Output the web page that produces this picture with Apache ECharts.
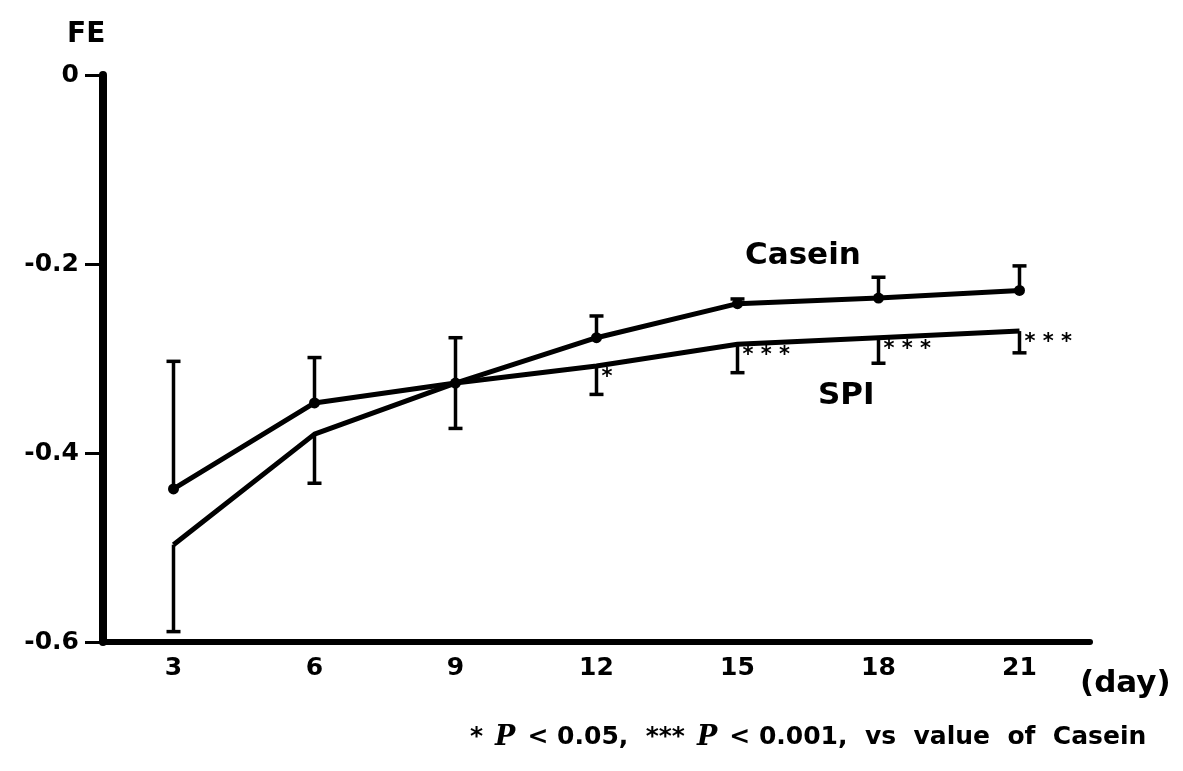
<!DOCTYPE html>
<html>
<head>
<meta charset="utf-8">
<script src="https://cdn.jsdelivr.net/npm/echarts@6/dist/echarts.min.js"></script>
<style>
  html, body { margin: 0; padding: 0; background: #fff; }
  #chart { width: 1183px; height: 771px; }
</style>
</head>
<body>
<div id="chart"></div>
<script>
// 数据
const days = [3, 6, 9, 12, 15, 18, 21];
const caseinMean = [-0.438, -0.347, -0.326, -0.278, -0.242, -0.236, -0.228];
const caseinErr = [0.135, 0.048, 0.048, 0.023, 0.005, 0.022, 0.026];   // 向上
const spiMean = [-0.497, -0.380, -0.326, -0.308, -0.285, -0.278, -0.271];
const spiErr = [0.092, 0.052, 0.048, 0.030, 0.030, 0.027, 0.023];       // 向下
const spiStars = ['', '', '', '*', '* * *', '* * *', '* * *'];
const yTicks = [-0.6, -0.4, -0.2, 0];

const FONT = '"DejaVu Sans", "Liberation Sans", sans-serif';

const myChart = echarts.init(document.getElementById('chart'));

// 误差线数据：[x, 均值, 端点]
let caseinBars = [];
let spiBars = [];
days.map(function (d, i) {
  caseinBars.push([d, caseinMean[i], caseinMean[i] + caseinErr[i]]);
  spiBars.push([d, spiMean[i], spiMean[i] - spiErr[i]]);
});

function renderBar(params, api) {
  let x = api.value(0);
  let m = api.coord([x, api.value(1)]);
  let e = api.coord([x, api.value(2)]);
  let stars = params.seriesName === 'SPI-err' ? spiStars[params.dataIndex] : '';
  let children = [
    { type: 'line', shape: { x1: m[0], y1: m[1], x2: e[0], y2: e[1] }, style: { stroke: '#000', lineWidth: 3.5 } },
    { type: 'line', shape: { x1: e[0] - 7, y1: e[1], x2: e[0] + 7, y2: e[1] }, style: { stroke: '#000', lineWidth: 3.5 } }
  ];
  if (stars) {
    children.push({
      type: 'text',
      style: {
        text: stars, x: m[0] + 5, y: m[1] + 1,
        font: 'bold 21px ' + FONT, fill: '#000',
        textAlign: 'left', textVerticalAlign: 'top'
      }
    });
  }
  return { type: 'group', children: children };
}

let option = {
  animation: false,
  backgroundColor: '#fff',
  grid: { left: 103, right: 93, top: 75, bottom: 129 },
  xAxis: {
    type: 'value',
    min: 1.5,
    max: 22.5,
    interval: 1.5,
    axisLine: { onZero: false, lineStyle: { color: '#000', width: 6 } },
    axisTick: { show: false },
    splitLine: { show: false },
    axisLabel: {
      margin: 14,
      color: '#000',
      fontSize: 25,
      fontWeight: 'bold',
      fontFamily: FONT,
      formatter: function (v) { return days.indexOf(v) >= 0 ? String(v) : ''; }
    }
  },
  yAxis: {
    type: 'value',
    min: -0.6,
    max: 0,
    interval: 0.2,
    axisLine: { show: true, lineStyle: { color: '#000', width: 8 } },
    axisTick: { show: true, inside: false, length: 18, lineStyle: { color: '#000', width: 3 } },
    splitLine: { show: false },
    axisLabel: {
      margin: 24,
      color: '#000',
      fontSize: 25,
      fontWeight: 'bold',
      fontFamily: FONT,
      formatter: function (v) {
        let r = Math.round(v * 10) / 10;
        return yTicks.indexOf(r) >= 0 ? (r === 0 ? '0' : r.toFixed(1)) : '';
      }
    }
  },
  series: [
    {
      name: 'Casein',
      type: 'line',
      data: days.map(function (d, i) { return [d, caseinMean[i]]; }),
      symbol: 'circle',
      symbolSize: 11,
      itemStyle: { color: '#000' },
      lineStyle: { color: '#000', width: 5 },
      z: 3
    },
    {
      name: 'SPI',
      type: 'line',
      data: days.map(function (d, i) { return [d, spiMean[i]]; }),
      symbol: 'none',
      lineStyle: { color: '#000', width: 5 },
      z: 3
    },
    {
      name: 'Casein-err',
      type: 'custom',
      renderItem: renderBar,
      data: caseinBars,
      z: 2
    },
    {
      name: 'SPI-err',
      type: 'custom',
      renderItem: renderBar,
      data: spiBars,
      z: 2
    }
  ],
  graphic: [
    { type: 'text', left: 67, top: 21, style: { text: 'FE', font: 'bold 28px ' + FONT, fill: '#000' } },
    { type: 'text', left: 745, top: 240, style: { text: 'Casein', font: 'bold 31px ' + FONT, fill: '#000' } },
    { type: 'text', left: 818, top: 380, style: { text: 'SPI', font: 'bold 31px ' + FONT, fill: '#000' } },
    { type: 'text', left: 1080, top: 668, style: { text: '(day)', font: 'bold 31px ' + FONT, fill: '#000' } },
    {
      type: 'text', left: 470, top: 724,
      style: {
        text: '{s|* } {p|P} {s| < 0.05,  *** } {p|P} {s| < 0.001,  vs  value  of  Casein}',
        rich: {
          s: { font: 'bold 25px ' + FONT, fill: '#000' },
          p: { font: 'italic bold 27px "DejaVu Serif", serif', fill: '#000' }
        }
      }
    }
  ]
};

myChart.setOption(option);
</script>
</body>
</html>
